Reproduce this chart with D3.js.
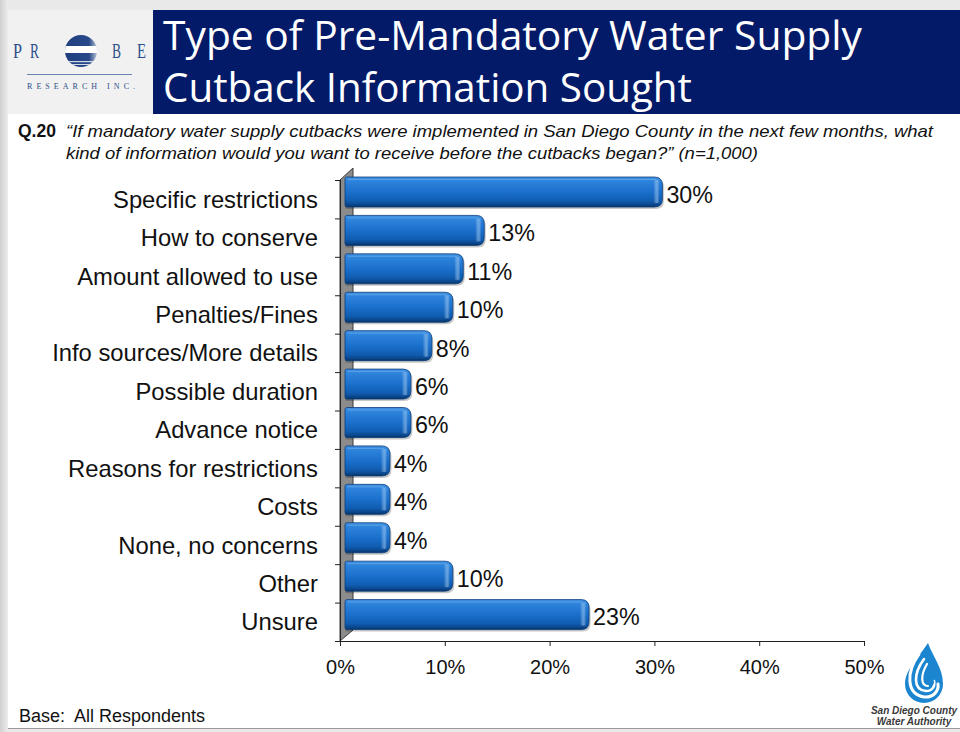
<!DOCTYPE html>
<html><head><meta charset="utf-8">
<script src="https://cdn.jsdelivr.net/npm/d3@7/dist/d3.min.js"></script>
<style>
html,body{margin:0;padding:0;background:#e4e4e4;}
svg{display:block;}
</style></head>
<body>
<script>
const categories = ["Specific restrictions","How to conserve","Amount allowed to use","Penalties/Fines","Info sources/More details","Possible duration","Advance notice","Reasons for restrictions","Costs","None, no concerns","Other","Unsure"];
const values = [30,13,11,10,8,6,6,4,4,4,10,23];
const xTicks = [0,10,20,30,40,50];
const titleLines = ["Type of Pre-Mandatory Water Supply","Cutback Information Sought"];
const questionLines = ["\u201CIf mandatory water supply cutbacks were implemented in San Diego County in the next few months, what","kind of information would you want to receive before the cutbacks began?\u201D (n=1,000)"];

const W=960,H=732;
const svg=d3.select("body").append("svg").attr("width",W).attr("height",H);
const defs=svg.append("defs");

// page background
const lg=defs.append("linearGradient").attr("id","leftEdge").attr("x1",0).attr("x2",1);
lg.append("stop").attr("offset",0).attr("stop-color","#d0d0d0");
lg.append("stop").attr("offset",1).attr("stop-color","#ececec");
svg.append("rect").attr("width",W).attr("height",H).attr("fill","#e9e9e9");
svg.append("rect").attr("x",0).attr("y",0).attr("width",8).attr("height",H).attr("fill","url(#leftEdge)");
svg.append("rect").attr("x",8).attr("y",10).attr("width",W-8).attr("height",718).attr("fill","#ffffff");
svg.append("line").attr("x1",8).attr("x2",W).attr("y1",728.5).attr("y2",728.5).attr("stroke","#9a9a9a").attr("stroke-width",1);

// logo area + title bar
svg.append("rect").attr("x",8).attr("y",10).attr("width",145).attr("height",104).attr("fill","#f1f1f1");
svg.append("rect").attr("x",153).attr("y",10).attr("width",W-153).attr("height",104).attr("fill","#031a68");
const tLens=[699,529];
titleLines.forEach((t,i)=>{
  svg.append("text").attr("x",163).attr("y",50+i*52).text(t)
    .attr("fill","#fff").attr("font-family","'Open Sans',Lato,sans-serif").attr("font-size",39.5)
    .attr("textLength",tLens[i]).attr("lengthAdjust","spacingAndGlyphs");
});

// PROBE logo
const lc="#2c4f8a";
const pl=svg.append("g");
[["P",13],["R",30],["B",112],["E",137]].forEach(([c,x])=>{
  pl.append("text").attr("x",x).attr("y",58).text(c).attr("fill",lc)
    .attr("font-family","'Liberation Serif','DejaVu Serif',serif").attr("font-size",20)
    .attr("textLength",9).attr("lengthAdjust","spacingAndGlyphs");
});
defs.append("clipPath").attr("id","logoClip").append("circle").attr("cx",81).attr("cy",51).attr("r",16);
const rg=defs.append("linearGradient").attr("id","probeG").attr("x1",0).attr("x2",1);
rg.append("stop").attr("offset",0).attr("stop-color","#1f3e7e");
rg.append("stop").attr("offset",0.75).attr("stop-color","#27498a");
rg.append("stop").attr("offset",1).attr("stop-color","#b9c3d6");
pl.append("circle").attr("cx",81).attr("cy",51).attr("r",16).attr("fill","url(#probeG)");
const lgc=pl.append("g").attr("clip-path","url(#logoClip)");
lgc.append("rect").attr("x",60).attr("y",46).attr("width",42).attr("height",7).attr("fill","#ffffff");
lgc.append("rect").attr("x",60).attr("y",61).attr("width",42).attr("height",1.2).attr("fill","#ffffff").attr("opacity",0.8);
lgc.append("rect").attr("x",60).attr("y",64).attr("width",42).attr("height",1).attr("fill","#ffffff").attr("opacity",0.8);
pl.append("line").attr("x1",27).attr("x2",132).attr("y1",74.5).attr("y2",74.5).attr("stroke","#6b86b3").attr("stroke-width",1);
pl.append("text").attr("x",27).attr("y",89).text("RESEARCH INC.").attr("fill",lc)
  .attr("font-family","'Liberation Serif','DejaVu Serif',serif").attr("font-size",8)
  .attr("textLength",108).attr("lengthAdjust","spacing");

// question
svg.append("text").attr("x",18).attr("y",137).text("Q.20").attr("font-family","'Liberation Sans',Arial,sans-serif")
  .attr("font-weight","bold").attr("font-size",17.5).attr("fill","#111");
const qLens=[867,692];
questionLines.forEach((t,i)=>{
  svg.append("text").attr("x",66).attr("y",137+i*22).text(t).attr("font-family","'Liberation Sans',Arial,sans-serif")
    .attr("font-style","italic").attr("font-size",17).attr("fill","#111")
    .attr("textLength",qLens[i]).attr("lengthAdjust","spacingAndGlyphs");
});

// scales
const x=d3.scaleLinear().domain([0,50]).range([340,864]);
const y=d3.scaleBand().domain(categories).range([180,641]).padding(0);
const DX=8, DY=-3, BH=30;
const font="'Liberation Sans',Arial,sans-serif";

// back wall (3D)
svg.append("path").attr("d",`M340,${y.range()[0]}L353,168L353,630L340,${y.range()[1]}Z`)
  .attr("fill","#8c8c8c").attr("stroke","#3a3a3a").attr("stroke-width",1);

// y axis ticks at band boundaries
const bounds=categories.map(c=>y(c)).concat([y.range()[1]]);
svg.append("g").selectAll("line").data(bounds).join("line")
  .attr("x1",335).attr("x2",340).attr("y1",d=>d+0.5).attr("y2",d=>d+0.5).attr("stroke","#222");
svg.append("line").attr("x1",340.5).attr("x2",340.5).attr("y1",180).attr("y2",641).attr("stroke","#222");

// category labels
svg.append("g").selectAll("text").data(categories).join("text")
  .attr("x",318).attr("y",d=>y(d)+y.bandwidth()/2).attr("dy","0.36em")
  .attr("text-anchor","end").attr("font-family",font).attr("font-size",23.8).attr("fill","#111").text(d=>d);

// x axis
const xAxis=svg.append("g").attr("transform","translate(0,641)")
  .call(d3.axisBottom(x).tickValues(xTicks).tickSize(5).tickPadding(0).tickFormat(d=>d+"%"));
xAxis.select(".domain").attr("stroke","#222").attr("d","M340,0.5H864.5");
xAxis.selectAll(".tick line").attr("stroke","#222");
xAxis.selectAll(".tick text").attr("font-family",font).attr("font-size",20).attr("fill","#111").attr("y",33).attr("dy",0);

// bars
const bg=defs.append("linearGradient").attr("id","barG").attr("x1",0).attr("x2",0).attr("y1",0).attr("y2",1);
[[0,"#4594e4"],[0.12,"#2f84dc"],[0.5,"#1a70cc"],[0.8,"#105cb0"],[0.93,"#0a468a"],[1,"#062f60"]]
  .forEach(([o,c])=>bg.append("stop").attr("offset",o).attr("stop-color",c));
const cg=defs.append("linearGradient").attr("id","capG").attr("x1",0).attr("x2",1);
cg.append("stop").attr("offset",0).attr("stop-color","#ffffff").attr("stop-opacity",0);
cg.append("stop").attr("offset",0.6).attr("stop-color","#9cc8f2").attr("stop-opacity",0.55);
cg.append("stop").attr("offset",1).attr("stop-color","#ffffff").attr("stop-opacity",0);

function barPath(x0,x1,y0,h){
  const r=Math.min(8,(x1-x0)/2);
  return `M${x0+2},${y0}H${x1-r}Q${x1},${y0} ${x1},${y0+r}V${y0+h-r}Q${x1},${y0+h} ${x1-r},${y0+h}H${x0+2}Q${x0},${y0+h} ${x0},${y0+h-2}V${y0+2}Q${x0},${y0} ${x0+2},${y0}Z`;
}
const data=categories.map((c,i)=>({c,v:values[i]}));
const bars=svg.append("g").selectAll("g").data(data).join("g");
bars.append("path").attr("d",d=>barPath(345,x(d.v)+DX+1.5,y(d.c)+DY+2,BH))
  .attr("fill","#000").attr("opacity",0.22);
bars.append("path").attr("d",d=>barPath(345,x(d.v)+DX,y(d.c)+DY,BH))
  .attr("fill","url(#barG)").attr("stroke","#0b3f7c").attr("stroke-width",0.8);
bars.append("rect").attr("x",d=>x(d.v)+DX-9).attr("y",d=>y(d.c)+DY+3).attr("width",6).attr("height",BH-7)
  .attr("fill","url(#capG)");
bars.append("line").attr("x1",348).attr("x2",d=>x(d.v)+DX-6).attr("y1",d=>y(d.c)+DY+2.5).attr("y2",d=>y(d.c)+DY+2.5)
  .attr("stroke","#6fb0ee").attr("stroke-width",1).attr("opacity",0.6);

// value labels
svg.append("g").selectAll("text").data(data).join("text")
  .attr("x",d=>x(d.v)+DX+4).attr("y",d=>y(d.c)+DY+BH/2+2.5).attr("dy","0.36em")
  .attr("font-family",font).attr("font-size",23.3).attr("fill","#111").text(d=>d.v+"%");

// base note
svg.append("text").attr("x",19).attr("y",722).text("Base:  All Respondents")
  .attr("font-family",font).attr("font-size",18).attr("fill","#111").style("white-space","pre");

// Water authority logo
const wl=svg.append("g");
wl.append("path").attr("d","M928,643C918,658 905,670 905,684A19,19 0 0 0 943,684C943,668 933,657 928,643Z").attr("fill","#1b86cf");
[["M919,654C906,672 906,694 924,697C934,698 939,690 938,684",3],
 ["M924,659C913,674 913,690 926,691C933,691 935,686 934,681",2.6],
 ["M927,664C920,676 921,686 928,686",2.2]].forEach(([d,w])=>{
  wl.append("path").attr("d",d).attr("fill","none").attr("stroke","#fff").attr("stroke-width",w).attr("stroke-linecap","round");
});
wl.append("path").attr("d","M931,672C929,677 927,680 927,682A3.5,3.5 0 0 0 934,682C934,680 932,677 931,672Z").attr("fill","#1b86cf");
wl.append("text").attr("x",914).attr("y",714).attr("text-anchor","middle").text("San Diego County").attr("font-family",font)
  .attr("font-weight","bold").attr("font-style","italic").attr("font-size",10).attr("fill","#3a3a3a");
wl.append("text").attr("x",914).attr("y",725).attr("text-anchor","middle").text("Water Authority").attr("font-family",font)
  .attr("font-weight","bold").attr("font-style","italic").attr("font-size",10).attr("fill","#3a3a3a");
</script>
</body></html>
